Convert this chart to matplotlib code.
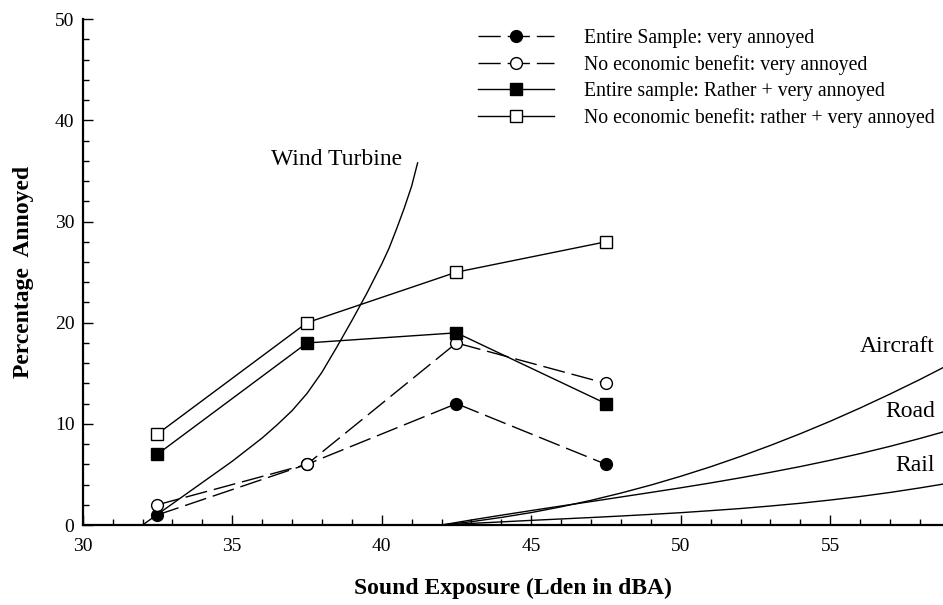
import matplotlib
matplotlib.use('Agg')
import matplotlib.pyplot as plt
from matplotlib.ticker import MultipleLocator

plt.rcParams['font.family'] = ['Liberation Serif', 'DejaVu Serif']

# ---- data ----
levels = [32.5, 37.5, 42.5, 47.5]
entire_very = [1, 6, 12, 6]
noecon_very = [2, 6, 18, 14]
entire_rather = [7, 18, 19, 12]
noecon_rather = [9, 20, 25, 28]

legend_labels = ["Entire Sample: very annoyed",
                 "No economic benefit: very annoyed",
                 "Entire sample: Rather + very annoyed",
                 "No economic benefit: rather + very annoyed"]

wind_x = [32.0, 33.0, 34.0, 35.0, 36.0, 36.5, 37.0, 37.5, 38.0, 38.5, 39.0,
          39.5, 40.0, 40.25, 40.5, 40.75, 41.0, 41.2]
wind_y = [0.0, 2.1, 4.2, 6.3, 8.6, 9.9, 11.3, 13.0, 15.1, 17.6, 20.2,
          22.9, 25.8, 27.4, 29.3, 31.3, 33.5, 35.8]

curve_x = [42, 43, 44, 45, 46, 47, 48, 49, 50, 51, 52, 53, 54, 55, 56, 57, 58, 58.8]
aircraft_y = [0, 0.33, 0.75, 1.23, 1.80, 2.44, 3.16, 3.95, 4.82, 5.76, 6.78,
              7.87, 9.03, 10.26, 11.57, 12.95, 14.39, 15.60]
road_y = [0, 0.50, 0.97, 1.43, 1.88, 2.32, 2.77, 3.22, 3.68, 4.16, 4.67,
          5.21, 5.78, 6.40, 7.06, 7.78, 8.56, 9.22]
rail_y = [0, 0.16, 0.31, 0.46, 0.60, 0.74, 0.89, 1.05, 1.22, 1.42, 1.63,
          1.88, 2.15, 2.47, 2.82, 3.22, 3.67, 4.06]

x_ticks = [30, 35, 40, 45, 50, 55]
y_ticks = [0, 10, 20, 30, 40, 50]

# ---- figure ----
fig = plt.figure(figsize=(9.43, 6.05), dpi=100)
ax = fig.add_axes([0.0877, 0.1322, 0.9123, 0.836])
ax.set_xlim(30, 58.77)
ax.set_ylim(0, 50)

dash = (16, 5)
ms = 8.5
ax.plot(levels, entire_very, color='black', lw=1.0, dashes=dash,
        marker='o', ms=ms, mfc='black', mec='black', zorder=3,
        label=legend_labels[0])
ax.plot(levels, noecon_very, color='black', lw=1.0, dashes=dash,
        marker='o', ms=ms, mfc='white', mec='black', mew=1.0, zorder=3,
        label=legend_labels[1])
ax.plot(levels, entire_rather, color='black', lw=1.0,
        marker='s', ms=ms, mfc='black', mec='black', zorder=3,
        label=legend_labels[2])
ax.plot(levels, noecon_rather, color='black', lw=1.0,
        marker='s', ms=ms, mfc='white', mec='black', mew=1.0, zorder=3,
        label=legend_labels[3])

ax.plot(wind_x, wind_y, color='black', lw=1.0, zorder=2)
ax.plot(curve_x, aircraft_y, color='black', lw=1.0, zorder=2)
ax.plot(curve_x, road_y, color='black', lw=1.0, zorder=2)
ax.plot(curve_x, rail_y, color='black', lw=1.0, zorder=2)

ax.text(40.67, 36.1, "Wind Turbine", ha='right', va='center', fontsize=17)
ax.text(58.5, 17.6, "Aircraft", ha='right', va='center', fontsize=17)
ax.text(58.5, 11.2, "Road", ha='right', va='center', fontsize=17)
ax.text(58.5, 5.93, "Rail", ha='right', va='center', fontsize=17)

# axes styling
for s in ['top', 'right']:
    ax.spines[s].set_visible(False)
for s in ['left', 'bottom']:
    ax.spines[s].set_linewidth(1.6)
ax.set_xticks(x_ticks)
ax.set_yticks(y_ticks)
ax.xaxis.set_minor_locator(MultipleLocator(1))
ax.yaxis.set_minor_locator(MultipleLocator(2))
ax.tick_params(which='both', direction='in', top=False, right=False,
               labelsize=14, width=1.0)
ax.tick_params(axis='x', which='major', length=7, pad=9)
ax.tick_params(axis='y', which='major', length=7, pad=6)
ax.tick_params(which='minor', length=4)

fig.text(0.0245, 0.55, "Percentage  Annoyed", rotation=90, ha='center',
         va='center', fontsize=17, fontweight='bold')
fig.text(0.544, 1 - 588 / 605, "Sound Exposure (Lden in dBA)", ha='center',
         va='center', fontsize=17, fontweight='bold')

leg = ax.legend(loc='upper left', bbox_to_anchor=(478 / 943, 1 - 29 / 605),
                bbox_transform=fig.transFigure, frameon=False, fontsize=14.2,
                handlelength=3.85, handletextpad=1.55, borderpad=0,
                borderaxespad=0, labelspacing=0.36, numpoints=1)

fig.savefig('out.png', dpi=100)
